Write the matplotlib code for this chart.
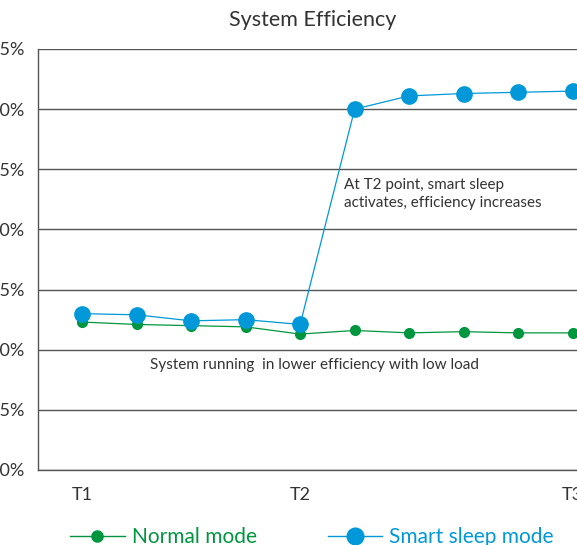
import matplotlib.pyplot as plt
from matplotlib.lines import Line2D

# --- data ---
steps = [0, 1, 2, 3, 4, 5, 6, 7, 8, 9]
normal_mode = [72.3, 72.1, 72.0, 71.9, 71.3, 71.6, 71.4, 71.5, 71.4, 71.4]
smart_sleep = [73.0, 72.9, 72.4, 72.5, 72.1, 90.0, 91.1, 91.3, 91.4, 91.5]
tick_pos = [0, 4, 9]
tick_labels = ['T1', 'T2', 'T3']
y_ticks = [60, 65, 70, 75, 80, 85, 90, 95]

GREEN = '#00963f'
BLUE = '#0098d8'
TEXT = '#333333'
GRID = '#555555'

plt.rcParams['font.family'] = ['Lato', 'DejaVu Sans']

fig = plt.figure(figsize=(5.77, 5.45), dpi=100)
ax = fig.add_axes([38 / 577, 75 / 545, 539 / 577, 421 / 545])

ax.plot(steps, normal_mode, color=GREEN, lw=0.9, marker='o', ms=7, zorder=3)
ax.plot(steps, smart_sleep, color=BLUE, lw=0.9, marker='o', ms=11, zorder=4)

ax.set_xlim(-0.81, 9.08)
ax.set_ylim(60, 95)
ax.set_yticks(y_ticks)
ax.set_yticklabels([f'{v}%' for v in y_ticks])
ax.set_xticks(tick_pos)
ax.set_xticklabels(tick_labels)
ax.tick_params(axis='y', length=0, pad=10, labelsize=13, colors=TEXT)
ax.tick_params(axis='x', length=0, pad=12, labelsize=13, colors=TEXT)

ax.grid(axis='y', color=GRID, lw=1.0)
ax.set_axisbelow(True)
for s in ['top', 'right']:
    ax.spines[s].set_visible(False)
for s in ['left', 'bottom']:
    ax.spines[s].set_color(GRID)
    ax.spines[s].set_linewidth(1.0)

# annotations
ax.text(4.8, 84.3, 'At T2 point, smart sleep\nactivates, efficiency increases',
        fontsize=11, color=TEXT, va='top', ha='left', linespacing=1.4)
ax.text(1.24, 68.7, 'System running  in lower efficiency with low load',
        fontsize=11, color=TEXT, va='center', ha='left')

fig.text(313 / 577, 1 - 20 / 545, 'System Efficiency', fontsize=15.5,
         color=TEXT, ha='center', va='center')

handles = [
    Line2D([], [], color=GREEN, lw=1.0, marker='o', ms=8),
    Line2D([], [], color=BLUE, lw=1.0, marker='o', ms=12),
]
leg = fig.legend(handles, ['Normal mode', 'Smart sleep mode'], ncol=2,
                 loc='center', bbox_to_anchor=(312 / 577, 1 - 537 / 545),
                 frameon=False, fontsize=15, handlelength=2.6,
                 columnspacing=3.4, handletextpad=0.35)
for txt, c in zip(leg.get_texts(), [GREEN, BLUE]):
    txt.set_color(c)

plt.savefig('out.png', dpi=100)
